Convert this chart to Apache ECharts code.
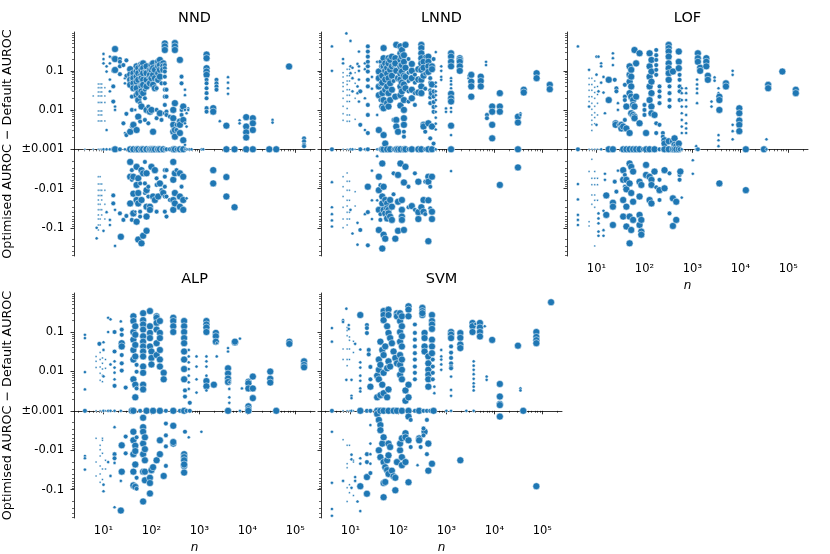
<!DOCTYPE html>
<html>
<head>
<meta charset="utf-8">
<script src="https://cdn.jsdelivr.net/npm/echarts@6/dist/echarts.min.js"></script>
<style>
  html, body { margin: 0; padding: 0; background: #fff; }
  #chart { width: 830px; height: 554px; }
</style>
</head>
<body>
<div id="chart"></div>
<script>
// panel titles
const methods = ["NND", "LNND", "LOF", "ALP", "SVM"];

// each column: [n, dimension, [optimised - default AUROC, ...]]
// a difference of 0 stands for |diff| <= 0.001
const nnd = [
  [4.1, 2, [0]],
  [6.1, 2, [0.023, 0]],
  [7.8, 2, [0.046, 0.037, 0.029, 0.023, 0.0155, 0.0095, 0.0075, 0.0053, 0, -0.005, -0.0077, -0.011, -0.015, -0.0196, -0.025, -0.035, -0.047, -0.06, -0.085, -0.114]],
  [8.5, 2, [0.046, 0.037, 0.029, 0.023, 0.0155, 0.0095, 0.0075, 0.0053, 0, -0.005, -0.0077, -0.011, -0.015, -0.025, -0.035, -0.06, -0.085]],
  [9.2, 2, [0.046, 0.037, 0.029, 0.023, 0.0155, 0.0095, 0.0075, 0.0053, 0, -0.0077, -0.011, -0.015, -0.0196, -0.035, -0.047]],
  [10.7, 2, [0.037, 0.023, 0.0155, 0.0053, 0, -0.011, -0.025, -0.06]],
  [7.2, 8, [-0.1, -0.186]],
  [10, 8, [0.27, 0.2, 0.155, 0, -0.12]],
  [11.6, 8, [0.13, 0.096, 0.0031, 0, -0.04]],
  [13.6, 8, [0.23, 0.155, 0.06, 0.03, 0, -0.063, -0.085]],
  [16, 25, [0.21, 0.1, 0.04, 0.0165, 0, -0.015, -0.024]],
  [17.4, 80, [0.36, 0.2, 0.105, 0]],
  [17.4, 8, [0.0123, 0.0101, -0.035, -0.29]],
  [22, 25, [0.2, 0.17, 0.13, 0.082, 0, -0.043]],
  [23, 80, [-0.17]],
  [26, 25, [0.14, 0.0046, -0.063]],
  [28, 8, [0.065, 0.048, 0.0026, 0]],
  [30, 25, [0.185, 0.075, 0.008, 0.0023, -0.05]],
  [36, 80, [0.11, 0.08, 0.059, 0.044, 0.0028, 0, -0.0021, -0.005, -0.024]],
  [39, 25, [0.075, 0.059, 0.022, 0.0101, 0.0038, 0, -0.0034, -0.006, -0.043, -0.063]],
  [42, 80, [0.087, 0.065, 0.048, 0.036, 0.0042, 0, -0.005, -0.0135, -0.043]],
  [46, 8, [0.04, 0.0101, 0.0031, 0, -0.039]],
  [49, 80, [0.13, 0.096, 0.071, 0.053, 0.036, 0.024, 0.0031, 0, -0.0028, -0.0081, -0.0196, -0.07]],
  [53, 80, [0.117, 0.087, 0.059, 0.027, 0.018, 0.0068, 0, -0.0055, -0.013, -0.024, -0.2]],
  [58, 25, [0.15, 0.079, 0.044, 0.022, 0.015, 0.0051, 0, -0.0074, -0.039, -0.052]],
  [62, 80, [0.13, 0.106, 0.065, 0.04, 0.03, 0.0123, 0, -0.0034, -0.0196, -0.25]],
  [67, 80, [0.155, 0.117, 0.087, 0.059, 0.044, 0.027, 0, -0.0041, -0.16]],
  [73, 25, [0.096, 0.033, 0.02, 0.0056, 0, -0.0021, -0.0074, -0.013]],
  [79, 80, [0.13, 0.087, 0.059, 0.04, 0.0101, 0, -0.0041, -0.011, -0.029, -0.052, -0.12]],
  [86, 25, [0.071, 0.048, 0.0123, 0.0046, 0, -0.009, -0.016]],
  [93, 80, [0.106, 0.079, 0.048, 0.0091, 0, -0.029, -0.035]],
  [100, 80, [0.14, 0.106, 0.065, 0.0101, 0, -0.0028]],
  [108, 80, [0.155, 0.117, 0.079, 0.044, 0.0028, 0, -0.016]],
  [118, 80, [0.106, 0.065, 0.036, 0, -0.0034, -0.0196]],
  [128, 25, [0.15, 0.059, 0.036, 0.0101, 0.0062, 0, -0.0055, -0.0081, -0.039]],
  [138, 80, [0.17, 0.13, 0.087, 0.059, 0, -0.016]],
  [150, 80, [0.19, 0.14, 0.106, 0.071, 0.0083, 0, -0.0074]],
  [162, 25, [0.117, 0.048, 0.0056, 0, -0.011]],
  [176, 80, [0.155, 0.13, 0.106, 0, -0.013]],
  [190, 80, [0.5, 0.42, 0.34]],
  [190, 25, [0.14, 0.117, 0.096, 0.071, 0.048, 0.033, 0.022, 0.0135, 0.0083, 0, -0.0034, -0.005, -0.009, -0.016, -0.039]],
  [206, 25, [0.033, 0.022, 0.0091, 0.0075, 0, -0.0034, -0.016, -0.052]],
  [242, 25, [0.0068, 0, -0.0196]],
  [285, 80, [0.0101, 0.0062, 0.0042, 0.0028, 0, -0.0021, -0.006, -0.0196, -0.035]],
  [308, 80, [0.51, 0.42, 0.34, 0.015, 0.0031, 0.0021, 0, -0.0041, -0.013, -0.024]],
  [333, 25, [0.0042, 0.0031, 0, -0.0034]],
  [392, 80, [0.19, 0.0051, 0.0042, 0.0026, 0, -0.0041, -0.016, -0.029]],
  [424, 25, [0.071, 0.048, 0.0101, 0.0075, 0, -0.009]],
  [460, 80, [0.0123, 0.0056, 0.0017, 0, -0.005, -0.0196, -0.035]],
  [500, 8, [0.033, 0.024, 0.0101, 0.0046, 0.0013, 0]],
  [540, 8, [0.0083, 0.0038, 0, -0.0178]],
  [585, 8, [0.0111, 0.0101, 0]],
  [630, 8, [0]],
  [685, 8, [0]],
  [1110, 8, [0]],
  [1200, 8, [0]],
  [1410, 80, [0.26, 0.21, 0.117, 0.096, 0.079]],
  [1410, 25, [0.059, 0.048, 0.036, 0.027, 0.02, 0.0112, 0.0091]],
  [1940, 80, [0.0112, 0.0091, -0.0034, -0.0074]],
  [2270, 25, [0.059, 0.048, 0.04, 0.033]],
  [2660, 8, [0.0052]],
  [3650, 80, [0.004, 0, -0.0051, -0.016]],
  [3950, 8, [0.069, 0.05, 0.036, 0.026]],
  [5400, 80, [0, -0.03]],
  [6880, 8, [0.0055, 0.0046]],
  [9450, 80, [0.0066, 0.0038, 0.0027, 0.002, 0]],
  [13000, 80, [0.0062, 0.0046, 0.0031, 0]],
  [28600, 80, [0]],
  [33500, 8, [0.0056, 0.0048]],
  [40000, 80, [0]],
  [74000, 80, [0.129]],
  [152000, 25, [0.0019, 0.0016, 0.0013, 0.0012]]
];

const lnnd = [
  [4.1, 8, [0.42, 0.1, -0.0069, -0.03, -0.045, -0.065, -0.093]],
  [4.1, 25, [0]],
  [7, 8, [0.2, 0.155]],
  [7, 2, [0.09, 0.07, 0.05, 0.04, 0.03, 0.02, 0.0125, 0.008, 0.0055, 0, -0.005, -0.009, -0.016, -0.03, -0.06, -0.1]],
  [8.2, 8, [0.9]],
  [8.5, 2, [0.11, 0.075, 0.055, 0.045, 0.033, 0.024, 0.0165, 0.011, 0.0075, 0.0052, 0, -0.004, -0.0065, -0.011, -0.02, -0.028, -0.04, -0.06, -0.085]],
  [9.5, 2, [0.11, 0.075, 0.055, 0.033, 0.024, 0.0165, 0.0075, 0.0052, 0, -0.0065, -0.011, -0.02, -0.04, -0.06]],
  [10, 8, [0.58, 0.13, 0.087, 0, -0.035]],
  [11, 8, [0.12, 0.065, 0.03, 0, -0.14]],
  [12.5, 2, [0.09, 0.048, 0.02, 0.0058, 0, -0.012, -0.028]],
  [14, 8, [0.15, 0.04, 0.027, -0.075, -0.27]],
  [15, 8, [0.31, 0.13, 0.1, 0.06, 0.0165]],
  [16, 25, [0.03, 0.0042, 0, -0.114]],
  [20, 8, [0.155, 0.11, 0.02, 0.0031, 0, -0.045]],
  [23, 25, [0.42, 0.31, 0.23, 0.17, 0.13, 0.096, 0.059, 0.04, 0.0135, 0.0075, 0.0026, 0, -0.04, -0.28]],
  [23, 80, [-0.009]],
  [28, 8, [0.07, 0.035, -0.0035, -0.02, -0.06]],
  [36, 8, [0.17, 0.0075, 0, -0.0015, -0.02]],
  [39, 80, [0.096, 0.065, 0.04, 0.024, 0.0031, -0.005, -0.011, -0.035, -0.114]],
  [42, 25, [0.17, 0.045, 0.018, 0, -0.0082, -0.045, -0.063]],
  [46, 80, [0.13, 0.075, 0.05, 0.027, 0.0123, 0, -0.0023, -0.016, -0.024, -0.34]],
  [49, 80, [0.38, 0.21, 0.13, 0.018, 0.0111, 0.0023, 0, -0.009, -0.035, -0.15]],
  [53, 80, [0.155, 0.1, 0.06, 0.033, 0.0014, -0.0196, -0.043, -0.19]],
  [58, 80, [0.12, 0.085, 0.04, 0.015, 0, -0.024, -0.032, -0.058]],
  [62, 80, [0.21, 0.155, 0.065, 0.027, 0.0123, -0.035, -0.043]],
  [67, 80, [0.19, 0.106, 0.048, 0.018, 0, -0.0196, -0.052]],
  [73, 80, [0.23, 0.13, 0.075, 0.033, -0.029, -0.063]],
  [79, 25, [0.14, 0.055, 0.0056, 0, -0.0041, -0.014]],
  [86, 80, [0.21, 0.155, 0.022, -0.19]],
  [90, 80, [0.46, 0.1, 0.0056, 0.0038, 0]],
  [98, 80, [0.065, 0.0028, 0, -0.0045, -0.0217, -0.12]],
  [110, 80, [0.42, 0.28, 0.19, 0.13, 0.085, 0.06, 0.04, 0.024, 0.013, 0, -0.0023]],
  [118, 80, [0.34, 0.23, 0.14, 0.096, 0.05, 0.03, -0.0196, -0.035, -0.052, -0.063]],
  [130, 80, [0.25, 0.17, 0.075, 0.045, 0.018, 0.0101, 0.0062, 0.0042, 0, -0.007, -0.114]],
  [130, 25, [0.0028, 0.0021]],
  [140, 80, [0.46, 0.12, 0.07, 0.036, 0, -0.0028]],
  [162, 25, [0.2, 0.09, 0.055, 0.03, 0.0165, 0, -0.009, -0.03]],
  [190, 80, [0.15, 0.1, 0.065, 0.033, 0.02, 0, -0.028]],
  [220, 25, [0.08, 0.05, 0.027, 0.0135, -0.0041, -0.035]],
  [260, 80, [0.11, 0.06, 0.028, 0, -0.0067, -0.04, -0.06]],
  [300, 80, [0.46, 0.38, 0.28, 0.21, 0.155, 0.106, 0.059, 0.04, 0.027, 0, -0.03]],
  [333, 80, [0.17, 0.12, 0.075, 0.0042, 0.0038, -0.0196, -0.039]],
  [362, 25, [0.23, 0.085, 0.035, 0.0028, 0, -0.0067, -0.045]],
  [420, 80, [0.23, 0.17, 0.13, 0.094, 0.0046, 0, -0.005, -0.0067, -0.02, -0.22]],
  [460, 25, [0.065, 0.05, 0.032, 0.021, 0.015, 0.0019, -0.009, -0.032]],
  [500, 80, [0.13, 0.11, 0.045, 0.027, 0.0038, 0, -0.005, -0.039, -0.06]],
  [540, 25, [0.2, 0.03, 0.022, 0.016, 0.012, 0.009, 0.0014]],
  [600, 8, [0.3, 0.05, 0.04, 0.03, 0.024, 0.018, 0.0125, 0.009, 0.0064, 0.0045, 0.0032, 0]],
  [780, 8, [0.13, 0.1, 0.07, 0.059]],
  [980, 8, [0.011, 0.009]],
  [1250, 80, [0.28, 0.23, 0.17, 0.13, 0.026, 0.02, 0.0165, 0.004, 0]],
  [1250, 8, [0.065, 0.055, 0.045, 0.036, 0.0113, 0.009, 0.0023, -0.0036]],
  [1900, 80, [0.21, 0.19, 0.17, 0.13, 0.1]],
  [2900, 8, [0.075, 0.065]],
  [3300, 80, [0.079, 0.053, 0.04, 0.022]],
  [5200, 80, [0.071, 0.055, 0.04]],
  [6700, 8, [0.17, 0.14]],
  [7000, 25, [0.0075, 0.0062]],
  [9000, 80, [0.0123, 0.0091, 0.0042, 0.0019]],
  [13000, 80, [0.027, 0.0123, 0.0091, -0.0081]],
  [31000, 80, [0.0068, 0.0048, 0, -0.0029]],
  [35000, 8, [0.0083, 0.0075]],
  [41000, 80, [0.033, 0.028]],
  [76000, 80, [0.087, 0.065]],
  [143000, 80, [0.044, 0.034]]
];

const lof = [
  [4.1, 8, [0.42, -0.0077, -0.019, -0.047, -0.063, -0.085]],
  [4.1, 25, [0]],
  [7, 8, [0.106, 0.0123]],
  [7, 2, [0.065, 0.045, 0.032, 0.022, 0.0165, 0, -0.0037, -0.07, -0.09]],
  [8, 2, [0.065, 0.045, 0.032, 0.022, 0.015, 0.0105, 0.0075, 0.0055, 0.0042, 0.003, 0, -0.0018, -0.0055, -0.008, -0.0146, -0.025]],
  [9.2, 2, [0.055, 0.038, 0.028, 0.02, 0.0125, 0.0085, 0.0065, 0.0045, 0, -0.0037, -0.0055, -0.008, -0.0146, -0.02, -0.03, -0.29]],
  [10, 8, [0.23, 0.08, 0.0042]],
  [10.5, 2, [0.04, 0.025, 0.015, 0.0075, 0, -0.0055, -0.008, -0.02]],
  [11, 8, [0.23, 0.03, -0.043, -0.058, -0.077, -0.125, -0.16]],
  [12.5, 8, [0.155, 0.13, 0.05, 0]],
  [14, 8, [0.07, 0.028, -0.037, -0.115, -0.16]],
  [15, 8, [0.0083, -0.0042, -0.006]],
  [16, 80, [-0.015, -0.047]],
  [18, 80, [0.059, 0.018, 0]],
  [22, 8, [0.28, 0.21, 0.14]],
  [22, 80, [-0.023, -0.029, -0.085, 0]],
  [24, 25, [0.059, -0.0067]],
  [25, 80, [0.0046, 0.0042]],
  [26, 25, [0.036, 0.03, -0.012]],
  [28, 8, [0.015, 0.0101, 0.0042, -0.0035]],
  [33, 80, [0.0042, 0.0034]],
  [36, 80, [0.0038, 0, -0.0034, -0.006, -0.0196, -0.052]],
  [39, 25, [0.044, 0.022, 0.018, 0.0056, -0.0045, -0.009]],
  [42, 80, [0.0123, 0.0034, 0, -0.006, -0.0105, -0.029, -0.093]],
  [49, 80, [0.13, 0.079, 0.053, 0.027, 0.0026, 0, -0.0023, -0.0074, -0.052, -0.25]],
  [53, 80, [0.106, 0.071, 0.04, 0.022, 0.0083, -0.0028, -0.013, -0.114]],
  [58, 80, [0.018, 0.0135, 0.0075, 0, -0.0037, -0.0217, -0.063]],
  [62, 80, [0.34, 0.0123, 0.0068, 0.0062]],
  [67, 80, [0.155, 0.022, 0]],
  [79, 80, [0.28, 0.0046, 0, -0.0067, -0.016, -0.047, -0.085]],
  [86, 80, [-0.0081, -0.063, -0.125, -0.15]],
  [93, 25, [0]],
  [100, 25, [0.0135, 0.0101, 0.0075]],
  [108, 80, [0.0026, 0, -0.0025, -0.0045]],
  [128, 80, [0.28, 0.13, 0.071, 0.04, 0.018, 0, -0.005, -0.0196]],
  [140, 80, [0.19, 0.096, 0.053, 0.027, 0.0123, 0.0083, -0.006, -0.0081, -0.024]],
  [162, 80, [0.0075, 0, -0.0037]],
  [176, 25, [0.34, 0.25, 0.19, 0.14, 0.106, 0.079, 0.0046, 0.0026, -0.0093]],
  [206, 25, [0.04, 0.03, 0.022, 0.015, 0.0042, 0, -0.006, -0.0196]],
  [206, 80, [-0.011]],
  [242, 25, [0.0026, 0.0021, 0]],
  [262, 80, [0.0017, 0.0014, 0, -0.0099, -0.0034]],
  [320, 80, [0.46, 0.38, 0.31, 0.23, 0.155, 0.117, 0.087, 0.059, 0.0016, 0]],
  [333, 25, [0.04, 0.027, 0.018, 0.0123, -0.0041, -0.043]],
  [392, 80, [0.096, 0.0016, 0, -0.0178, -0.09]],
  [424, 80, [0.0019, 0.0013, 0]],
  [460, 80, [0.0012, 0, -0.0217, -0.063]],
  [520, 80, [0.31, 0.17, 0.117, 0.0014, 0]],
  [540, 25, [0.079, 0.059, 0.04, 0.03, 0.018, 0, -0.0045, -0.006]],
  [560, 80, [-0.0037]],
  [600, 8, [0.036, 0.027, 0.018, 0.0123, 0.0083, 0.0056, 0.0038, 0.0026, 0, -0.017]],
  [740, 8, [0.036, 0.027, 0.018, 0.0123, 0.0075, 0.0046, 0.0034, 0.0026]],
  [1020, 8, [-0.0019, -0.0042]],
  [1200, 8, [0.0012, 0]],
  [1250, 8, [0.06, 0.045, 0.035, 0.027, 0.015]],
  [1300, 80, [0.28, 0.21, 0.17]],
  [1300, 25, [0]],
  [1450, 80, [0.12, 0.1]],
  [1950, 80, [0.21, 0.17, 0.13]],
  [2100, 80, [0.075, 0.059]],
  [2500, 8, [0.0165, 0.0123]],
  [2900, 8, [0.068, 0.056]],
  [3500, 8, [0.036, 0.027, 0.0023, 0.0017, 0.0012]],
  [3650, 80, [0.022, 0.018, 0.0101, -0.0074]],
  [5000, 80, [0.048, 0.04]],
  [6900, 8, [0.1, 0.079, 0.0042, 0.0029, 0.0018]],
  [9500, 80, [0.0111, 0.0083, 0.0054, 0.0042, 0.0029]],
  [13000, 80, [0, -0.011]],
  [31000, 80, [0]],
  [35000, 8, [0.0018, 0]],
  [38000, 80, [0.044, 0.036]],
  [75000, 80, [0.096]],
  [143000, 80, [0.033, 0.027]]
];

const alp = [
  [4.1, 8, [0.085, 0.07, 0.0096, 0.0035, -0.014, -0.016, -0.031]],
  [4.1, 25, [0]],
  [7, 2, [0.024, 0.018, 0.0125, 0, -0.005, -0.02, -0.045]],
  [8.2, 25, [0.05]],
  [8.5, 2, [0.03, 0.02, 0.013, 0.009, 0.006, 0, -0.0075, -0.0097, -0.014, -0.025, -0.04, -0.065]],
  [9.5, 2, [0.022, 0.016, 0.0115, 0.008, 0.0055, 0, -0.005, -0.0056, -0.012, -0.03, -0.055]],
  [10, 8, [0.055, 0.035, 0.0075, 0, -0.075, -0.11]],
  [11, 2, [0.02, 0.012, 0, -0.018, -0.03]],
  [12.5, 8, [0.23, 0.1, 0, -0.02]],
  [14, 8, [0.21, 0.015, 0, -0.045]],
  [17, 25, [0.1, 0.032, 0.0043, -0.0126, -0.016]],
  [17, 8, [0.018, 0.0125, 0.0093, 0.0063, 0, -0.0026, -0.021, -0.28]],
  [23, 8, [0.186, 0, -0.06]],
  [23, 80, [-0.34]],
  [24, 25, [0.115, 0.085, 0.026, 0.016, 0.0105]],
  [24, 80, [0.052, 0.043, -0.0075, -0.035]],
  [29, 25, [0.0039, -0.0045, -0.012]],
  [39, 80, [0]],
  [42, 80, [0.25, 0.19, 0.1, 0.064, 0.035, 0.02, 0.0063, 0, -0.0034, -0.0056, -0.0126, -0.035, -0.078]],
  [46, 80, [0.14, 0.085, 0.047, 0.024, 0.0046, 0.0022, -0.0077, -0.0105, -0.023, -0.085]],
  [49, 25, [0.0147, 0.0098, 0.0037, -0.0047, -0.05, -0.095]],
  [58, 25, [0]],
  [67, 80, [0.3, 0.2, 0.155, 0.115, 0.078, 0.057, 0.043, 0.032, 0.024, 0.0133, 0.0092, 0.0046, 0.0035, -0.0015, -0.0026, -0.0034, -0.0068, -0.0126, -0.035, -0.2]],
  [73, 80, [-0.0047, -0.0094, -0.018, -0.035, -0.058]],
  [79, 80, [0]],
  [93, 80, [0.34, 0.14, 0.095, 0.07, 0.043, -0.05, -0.068, -0.125]],
  [100, 80, [0.032, 0.022, 0.015, -0.032]],
  [108, 80, [0, -0.027]],
  [128, 80, [0.25, 0.23, 0.17, 0.115, 0.052, 0.026, -0.018]],
  [150, 80, [0.19, 0.095, 0.07, 0.035, 0.02, 0.0133, 0, -0.0126, -0.0056]],
  [180, 80, [0.0092, 0.0063, -0.045]],
  [200, 25, [0, -0.0042, -0.008, -0.025, -0.0021]],
  [285, 80, [0.23, 0.19, 0.14, 0.1, 0, -0.0024, -0.0068, -0.0062]],
  [392, 25, [0]],
  [480, 80, [0.19, 0.14, 0.1, 0.07, 0.052, 0.032, 0.02, 0.0115, 0.0063, 0, -0.0126, -0.015, -0.018, -0.025, -0.037, -0.023]],
  [500, 25, [0.0033, 0.0023, -0.0034]],
  [540, 25, [0]],
  [600, 8, [0.035, 0.024, 0.017, 0.0115, 0.0078, 0.0053, 0.0036, -0.0047]],
  [630, 25, [0.0016, 0]],
  [870, 8, [0.024, 0.0133, 0.0063, 0.0029]],
  [1100, 8, [-0.0034]],
  [1400, 80, [0.19, 0.155, 0.13, 0.1, 0.0057, 0.0042]],
  [1400, 8, [0.024, 0.018, 0.0133, 0.0078, 0.0033]],
  [2000, 80, [0.0046]],
  [2200, 80, [0.095, 0.078, 0.057]],
  [2300, 8, [0.052, 0.024]],
  [3950, 8, [0.039, 0.032]],
  [3950, 80, [0.012, 0.0088, 0.0066, 0.0054, 0]],
  [4200, 8, [0.0053, 0.0036, 0.0022, 0.0016]],
  [5500, 80, [0.054, 0.057]],
  [7000, 8, [0.068, 0]],
  [7700, 8, [0.0037]],
  [10500, 80, [0.0055, 0.005, 0.0037, 0.0013, 0.0011, 0]],
  [13000, 80, [0.0074, 0.0037, 0.0021]],
  [30000, 80, [0.0099, 0.0065, 0.0052]],
  [40000, 80, [0]],
  [75000, 80, [0.057, 0.05]],
  [152000, 80, [0.018, 0.0146, 0.0127]]
];

const svm = [
  [4.1, 8, [0.126, 0.057, -0.0034, -0.067, -0.31, -0.46]],
  [4.1, 25, [0]],
  [7, 8, [0.2, 0.18, -0.06]],
  [7, 2, [0.037, 0.02, 0, -0.0054]],
  [8.2, 8, [0.39, 0.0061]],
  [8.5, 2, [0.13, 0.11, 0.08, 0.037, 0.02, 0.014, 0, -0.0075, -0.022, -0.028, -0.09, -0.2]],
  [9.2, 8, [0.15, 0.12]],
  [9.5, 2, [0.075, 0.062, 0.037, 0.02, 0, -0.0075, -0.075, -0.12]],
  [10.5, 8, [0.0061, 0.0024, 0.0021, 0, -0.013, -0.017, -0.09]],
  [11.5, 2, [0.058, 0.03, 0, -0.018, -0.02, -0.14]],
  [12.5, 8, [0.05, -0.048, -0.06]],
  [14, 8, [-0.2]],
  [16, 80, [0.27, 0, -0.082]],
  [16, 8, [0.036, 0.017, 0.0125, 0.0078, 0.0058, 0.0037, 0.0031, -0.016, -0.022, -0.35]],
  [22, 25, [0.15, 0.126, 0.094, 0, -0.0126, -0.02]],
  [22, 80, [-0.048, -0.127]],
  [24, 25, [0.035, 0.027]],
  [26, 80, [0.0041]],
  [26, 25, [0.0063, 0.013, 0, -0.038]],
  [26, 8, [-0.0023, -0.0068, -0.0126, -0.022]],
  [36, 80, [0.0078, 0.0022, 0, -0.0012]],
  [39, 80, [0.02, 0.011, 0.0063, -0.0017, -0.01]],
  [42, 80, [0.057, 0.0147, 0.0025, 0, -0.0023, -0.0031, -0.015]],
  [46, 80, [0.035, 0.0046, -0.0068]],
  [49, 80, [0.34, 0.27, 0.2, 0.026, 0.0092, 0.0028, 0, -0.0047, -0.02, -0.068, -0.156]],
  [53, 80, [0.043, -0.027, -0.064]],
  [58, 80, [0.14, 0.012, 0.0022, -0.018, -0.032]],
  [62, 80, [0.37, 0.27, 0.095, 0.018, 0.0035, 0, -0.0135, -0.0068, -0.04]],
  [67, 80, [0.07, 0.0133, -0.0083]],
  [73, 80, [0.052, -0.033]],
  [79, 80, [0.032, 0, -0.046]],
  [86, 80, [0.022, -0.05, -0.104]],
  [93, 80, [0.3, 0.25, 0.016, 0, -0.02]],
  [108, 80, [0.3, 0.19, 0.1, 0.057, 0.026, 0.0147, 0.0082, -0.01, -0.0068]],
  [118, 80, [0.25, 0.14, 0.078, 0.043, 0.02, 0.011, 0.0063, 0, -0.015, -0.005, -0.024]],
  [140, 80, [0.0033, 0.0018, -0.0037, -0.0047, -0.02]],
  [162, 80, [0.45, 0.37, 0.25, 0.0046, 0.0022, 0, -0.0056, -0.0014, -0.065]],
  [180, 25, [-0.0083, -0.0017]],
  [220, 25, [0.155, 0.095, 0.064, 0.043, 0.029, 0.02, 0.0133, 0.0092, 0.0063, 0]],
  [250, 8, [-0.024]],
  [270, 80, [0, -0.005, -0.0056]],
  [290, 25, [-0.0083]],
  [315, 80, [0.41, 0.34, 0.27, 0.3]],
  [350, 80, [0.095, 0.07, 0.043, 0.032, -0.0034]],
  [333, 25, [0, -0.0042, -0.0028]],
  [420, 80, [0.024, 0.016, 0.011, 0.0082, 0.0063, 0.0041, -0.0068, -0.033]],
  [392, 25, [0, -0.0017, -0.0126]],
  [460, 25, [0]],
  [500, 80, [0.27, 0.19, 0.155, 0.12, 0.064, 0.043, 0.029, -0.022]],
  [520, 25, [0.02, 0.0133, 0.0092, 0.0063]],
  [540, 80, [0]],
  [560, 8, [0.0041, 0.0028]],
  [780, 8, [0.035, 0.024, 0.02, 0.015, 0.011]],
  [1000, 8, [0]],
  [1250, 80, [0.1, 0.086, 0.07]],
  [1250, 25, [0.043, 0.03, 0.022, 0.016, 0.013, 0.012]],
  [1250, 8, [0.0074, 0.0034, 0.0024, 0]],
  [1950, 80, [0.094, 0.071, 0.048, 0.039, -0.018]],
  [2600, 8, [0]],
  [3500, 80, [0.17, 0.14, 0.1]],
  [3700, 8, [0.018, 0.014, 0.011, 0.0085, 0.0065, 0.005, 0.0041, 0.0033, 0]],
  [4000, 8, [0.16]],
  [5000, 80, [0.17, 0.13, 0.1, 0.077]],
  [6300, 8, [0.14]],
  [6900, 8, [0.0074, 0.0061]],
  [9000, 80, [0.063]],
  [13000, 80, [0.0048, 0.0023, 0.0015, 0.0014, -0.0014]],
  [31000, 80, [0.045]],
  [35000, 8, [0.0037, 0.0033]],
  [40000, 80, [0]],
  [75000, 80, [0.1, 0.075, 0.062, 0.052, -0.082]],
  [152000, 80, [0.57]]
];

const panelData = [nnd, lnnd, lof, alp, svm];

// tick labels
const xTickExp = [1, 2, 3, 4, 5];
const xTickLabels = ["10\u00b9", "10\u00b2", "10\u00b3", "10\u2074", "10\u2075"];
const yTickPos = [-2, -1, 0, 1, 2];
const yTickLabels = ["-0.1", "-0.01", "\u00b10.001", "0.01", "0.1"];

// symmetric log: |diff| <= 0.001 collapses to 0, each decade above is one unit
function symlog(v) {
  if (v === 0) return 0;
  return Math.sign(v) * Math.max(0, Math.log10(Math.abs(v)) + 3);
}

const X_MIN = 0.385, X_MAX = 5.41;
const Y_MIN = -2.72, Y_MAX = 2.99;
const FONT = "DejaVu Sans";

const xMinor = [];
for (let e = 0; e <= 5; e++) {
  for (let k = 2; k <= 9; k++) {
    const v = e + Math.log10(k);
    if (v > X_MIN && v < X_MAX) xMinor.push(v);
  }
}
const yMinor = [];
for (let e = 0; e <= 2; e++) {
  for (let k = 2; k <= 9; k++) {
    const v = e + Math.log10(k);
    if (v < Y_MAX) yMinor.push(v);
    if (-v > Y_MIN) yMinor.push(-v);
  }
}

const grids = [
  { left: 74, top: 32, width: 241, height: 224 },
  { left: 321, top: 32, width: 241, height: 224 },
  { left: 567, top: 32, width: 241, height: 224 },
  { left: 74, top: 293, width: 241, height: 225 },
  { left: 321, top: 293, width: 241, height: 225 }
];
const showX = [false, false, true, true, true];
const showY = [true, false, false, true, false];

const xAxes = [], yAxes = [], series = [], titles = [];
const black = "#000";

grids.forEach((g, i) => {
  g.outerBoundsMode = "none";
  g.containLabel = false;
  xAxes.push({
    type: "value", gridIndex: i, position: "bottom", min: X_MIN, max: X_MAX,
    name: showX[i] ? "n" : "", nameLocation: "middle", nameGap: 24,
    nameTextStyle: { fontFamily: FONT, fontSize: 12, fontStyle: "italic", color: black },
    axisLine: { show: true, lineStyle: { color: black, width: 0.8 } },
    axisTick: { show: true, customValues: xTickExp, length: 3.5, lineStyle: { color: black, width: 0.8 } },
    axisLabel: {
      show: showX[i], customValues: xTickExp, margin: 7,
      fontFamily: FONT, fontSize: 11.5, color: black,
      formatter: v => xTickLabels[xTickExp.indexOf(Math.round(v))]
    },
    splitLine: { show: false }
  });
  xAxes.push({
    type: "value", gridIndex: i, position: "bottom", min: X_MIN, max: X_MAX,
    axisLine: { show: false },
    axisTick: { show: true, customValues: xMinor, length: 2, lineStyle: { color: black, width: 0.6 } },
    axisLabel: { show: false },
    splitLine: { show: false }
  });
  yAxes.push({
    type: "value", gridIndex: i, position: "left", min: Y_MIN, max: Y_MAX,
    name: showY[i] ? "Optimised AUROC \u2212 Default AUROC" : "",
    nameLocation: "middle", nameGap: 60, nameRotate: 90,
    nameTextStyle: { fontFamily: FONT, fontSize: 12.7, color: black },
    axisLine: { show: true, lineStyle: { color: black, width: 0.8 } },
    axisTick: { show: true, customValues: yTickPos, length: 3.5, lineStyle: { color: black, width: 0.8 } },
    axisLabel: {
      show: showY[i], customValues: yTickPos, margin: 10,
      fontFamily: FONT, fontSize: 11.5, color: black,
      formatter: v => yTickLabels[yTickPos.indexOf(Math.round(v))]
    },
    splitLine: { show: false }
  });
  yAxes.push({
    type: "value", gridIndex: i, position: "left", min: Y_MIN, max: Y_MAX,
    axisLine: { show: false },
    axisTick: { show: true, customValues: yMinor, length: 2, lineStyle: { color: black, width: 0.6 } },
    axisLabel: { show: false },
    splitLine: { show: false }
  });

  const pts = [];
  panelData[i].forEach(([n, dim, diffs]) => {
    diffs.forEach(v => pts.push([Math.log10(n), symlog(v), dim]));
  });
  series.push({
    type: "scatter", name: methods[i],
    xAxisIndex: 2 * i, yAxisIndex: 2 * i,
    data: pts,
    symbol: "circle",
    symbolSize: val => 2 * Math.pow(val[2] / 2, 0.34),
    itemStyle: { color: "#1f77b4", borderColor: "#fff", borderWidth: 0.5, opacity: 1 },
    emphasis: { disabled: true }
  });

  titles.push({
    text: methods[i], left: g.left + g.width / 2, top: g.top - 21, textAlign: "center", padding: 0,
    textStyle: { fontFamily: FONT, fontSize: 14.5, fontWeight: "normal", color: black }
  });
});

const chart = echarts.init(document.getElementById("chart"), null, { renderer: "canvas" });
chart.setOption({
  animation: false,
  backgroundColor: "#fff",
  title: titles,
  grid: grids,
  xAxis: xAxes,
  yAxis: yAxes,
  series: series
});
</script>
</body>
</html>
